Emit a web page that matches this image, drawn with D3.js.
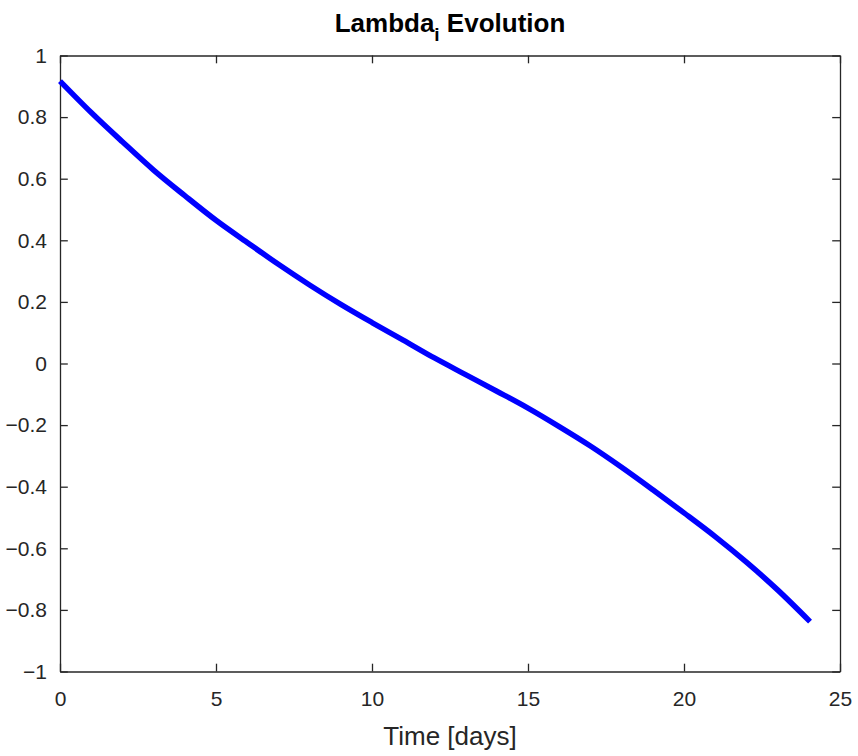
<!DOCTYPE html>
<html>
<head>
<meta charset="utf-8">
<script src="https://cdn.jsdelivr.net/npm/d3@7"></script>
<style>
  html, body { margin: 0; padding: 0; background: #fff; }
  svg { display: block; }
  text { font-family: "Liberation Sans", Arial, Helvetica, sans-serif; }
</style>
</head>
<body>
<svg id="chart" width="858" height="756"></svg>
<script>
// ---- data ----
const timeDays = [0, 1, 2, 3, 4, 5, 6, 7, 8, 9, 10, 11, 12, 13, 14, 15, 16, 17, 18, 19, 20, 21, 22, 23, 24.04];
const lambdaI  = [0.917, 0.815, 0.720, 0.628, 0.545, 0.465, 0.393, 0.322, 0.255, 0.192, 0.133, 0.076, 0.018,
                  -0.036, -0.090, -0.145, -0.205, -0.268, -0.337, -0.410, -0.485, -0.562, -0.645, -0.735, -0.838];
const xTicks = [0, 5, 10, 15, 20, 25];
const yTicks = [-1, -0.8, -0.6, -0.4, -0.2, 0, 0.2, 0.4, 0.6, 0.8, 1];
const xDomain = [0, 25];
const yDomain = [-1, 1];
const titleMain = "Lambda";
const titleSub = "i";
const titleRest = " Evolution";
const xLabel = "Time [days]";

// ---- layout ----
const svg = d3.select("#chart");
const L = 60, R = 840, T = 55.5, B = 671.5;
const axisColor = "#262626";
const tickLen = 7.8;

const x = d3.scaleLinear().domain(xDomain).range([L, R]);
const y = d3.scaleLinear().domain(yDomain).range([B, T]);

const fmt = v => (v < 0 ? "\u2212" : "") + d3.format("~g")(Math.abs(v));

// bottom axis
const gx = svg.append("g").attr("transform", `translate(0,${B})`)
  .call(d3.axisBottom(x).tickValues(xTicks).tickSizeInner(-tickLen).tickSizeOuter(0).tickPadding(20).tickFormat(fmt));
// left axis
const gy = svg.append("g").attr("transform", `translate(${L},0)`)
  .call(d3.axisLeft(y).tickValues(yTicks).tickSizeInner(-tickLen).tickSizeOuter(0).tickPadding(13).tickFormat(fmt));
// top axis (ticks only)
const gt = svg.append("g").attr("transform", `translate(0,${T})`)
  .call(d3.axisTop(x).tickValues(xTicks).tickSizeInner(-tickLen).tickSizeOuter(0).tickFormat(""));
// right axis (ticks only)
const gr = svg.append("g").attr("transform", `translate(${R},0)`)
  .call(d3.axisRight(y).tickValues(yTicks).tickSizeInner(-tickLen).tickSizeOuter(0).tickFormat(""));

[gx, gy, gt, gr].forEach(g => {
  g.select(".domain").attr("stroke", axisColor).attr("stroke-width", 1.3);
  g.selectAll(".tick line").attr("stroke", axisColor).attr("stroke-width", 1.3);
  g.selectAll(".tick text").attr("fill", axisColor).style("font-size", "21px")
    .style("font-family", '"Liberation Sans", Arial, sans-serif');
});
gx.selectAll(".tick text").attr("dy", "0.71em");

// line
const line = d3.line().x((d, i) => x(timeDays[i])).y(d => y(d)).curve(d3.curveMonotoneX);
svg.append("path")
  .datum(lambdaI)
  .attr("d", line)
  .attr("fill", "none")
  .attr("stroke", "#0000ff")
  .attr("stroke-width", 5.5)
  .attr("stroke-linejoin", "round");

// title
const title = svg.append("text")
  .attr("x", (L + R) / 2).attr("y", 32)
  .attr("text-anchor", "middle")
  .attr("fill", "#000")
  .style("font-size", "26px").style("font-weight", "bold");
title.append("tspan").text(titleMain);
title.append("tspan").attr("dy", 9).style("font-size", "19px").text(titleSub);
title.append("tspan").attr("dy", -9).text(titleRest);

// x label
svg.append("text")
  .attr("x", (L + R) / 2).attr("y", 745)
  .attr("text-anchor", "middle")
  .attr("fill", axisColor)
  .style("font-size", "26px")
  .text(xLabel);
</script>
</body>
</html>
